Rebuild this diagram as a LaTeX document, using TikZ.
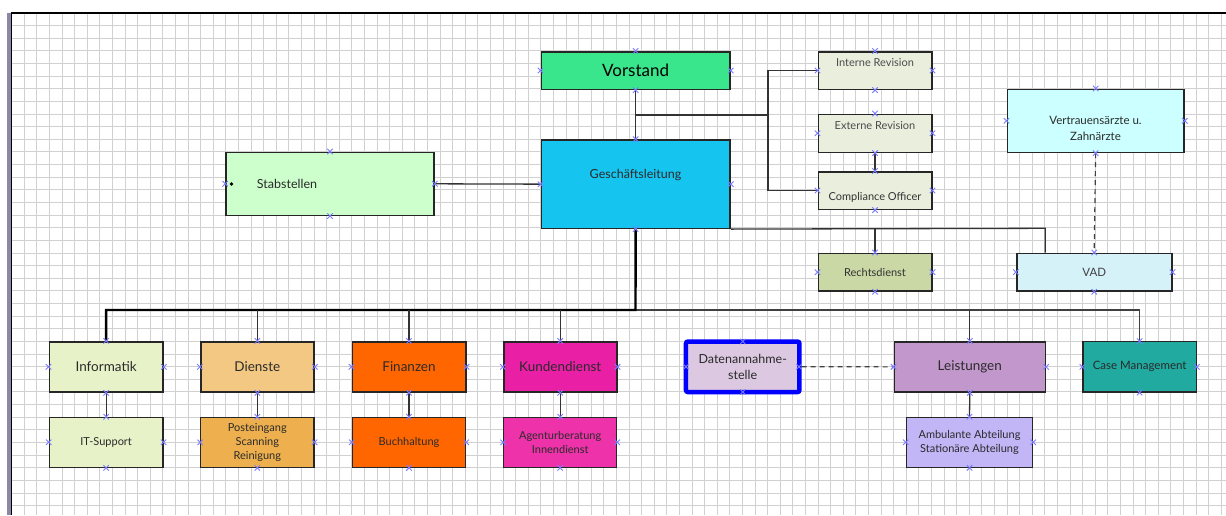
\documentclass[tikz,border=0pt]{standalone}
\usepackage{fontspec}
\setmainfont{Lato}
\usetikzlibrary{shapes.misc}
\definecolor{cVor}{HTML}{3AE68C}
\definecolor{cGL}{HTML}{15C5F0}
\definecolor{cStab}{HTML}{CCFFCC}
\definecolor{cRev}{HTML}{EAEEDD}
\definecolor{cRecht}{HTML}{C9D8A4}
\definecolor{cVert}{HTML}{CCFFFF}
\definecolor{cVAD}{HTML}{D5F2F8}
\definecolor{cInf}{HTML}{E8F2C9}
\definecolor{cDien}{HTML}{F2C882}
\definecolor{cPost}{HTML}{EEB04E}
\definecolor{cFin}{HTML}{FF6600}
\definecolor{cKund}{HTML}{E91FA5}
\definecolor{cAgent}{HTML}{EE33AA}
\definecolor{cDat}{HTML}{DCC8E0}
\definecolor{cLeist}{HTML}{C297CC}
\definecolor{cAmb}{HTML}{C3B6F7}
\definecolor{cCase}{HTML}{20AAA0}
\definecolor{cGrid}{HTML}{D0D0D0}
\definecolor{cBar}{HTML}{8A88A6}
\definecolor{cMark}{HTML}{7B7BFF}
\definecolor{cTxt}{HTML}{2A2A2A}
\newcommand\orgbox[7]{\node[#6, minimum width={(#4-#2)*1pt}, minimum height={(#5-#3)*1pt}] (#1) at ({(#2+#4)/2},{(#3+#5)/2}) {#7};}
\newcommand\fs[2]{\fontsize{#1}{#2}\selectfont}
\tikzset{
  box/.style={draw=black!85, line width=1.6pt, inner sep=0pt, align=center, text=cTxt},
  thinbox/.style={draw=black!85, line width=1.1pt, inner sep=0pt, align=center, text=cTxt},
  conn/.style={draw=black!80, line width=1.3pt},
  bus/.style={draw=black, line width=2.4pt},
  dashconn/.style={draw=black!75, line width=1.2pt, dashed, dash pattern=on 5pt off 4pt},
  xmark/.style={cross out, draw=cMark, line width=0.9pt, minimum size=4.5pt, inner sep=0pt},
  lbl/.style={text=cTxt, align=center}
}
\begin{document}
\begin{tikzpicture}[x=1pt,y=-1pt]
\useasboundingbox (0,0) rectangle (1226,515);
\fill[white] (0,0) rectangle (1226,515);
% grid
\begin{scope}
\clip (11,13) rectangle (1226,515);
\foreach \i in {0,...,97} \draw[cGrid, line width=0.9pt] ({11.7+12.6*\i},13) -- ({11.7+12.6*\i},515);
\foreach \j in {0,...,40} \draw[cGrid, line width=0.9pt] (11,{13+12.63*\j}) -- (1226,{13+12.63*\j});
\end{scope}
\fill[cBar] (7,13) rectangle (10.5,515);
\draw[black, line width=1.2pt] (10.5,13) -- (1226,13);
\draw[black, line width=1pt] (11.2,13) -- (11.2,515);

% boxes
\orgbox{vor}{541.3}{51.7}{730}{89.3}{box, fill=cVor, text=black, font=\fs{17}{20}}{Vorstand}
\orgbox{gl}{541.3}{140}{730}{228.3}{box, fill=cGL}{}
\node[lbl, font=\fs{12.5}{15}] (glt) at (635.5,175.5) {Geschäftsleitung};
\orgbox{stab}{226}{152.3}{434}{215.3}{box, fill=cStab}{}
\node[lbl, font=\fs{12.5}{15}] (stabt) at (287,184) {Stabstellen};
\fill[black] (231.5,184) circle (1.8);

\orgbox{ir}{818.3}{51.7}{931.7}{89.3}{box, fill=cRev}{}
\node[lbl, text=black!70, font=\fs{11}{13}] (irt) at (875,63) {Interne Revision};
\orgbox{er}{818.3}{114.3}{931.7}{152.3}{box, fill=cRev}{}
\node[lbl, text=black!70, font=\fs{11}{13}] (ert) at (875,126) {Externe Revision};
\orgbox{co}{818.3}{171.7}{931.7}{209.3}{box, fill=cRev}{}
\node[lbl, text=black!80, font=\fs{11}{13}] (cot) at (875,197) {Compliance Officer};
\orgbox{re}{818.3}{253.3}{931.7}{291}{box, fill=cRecht, text=black!80, font=\fs{11}{13}}{Rechtsdienst}
\orgbox{vz}{1007.3}{89.3}{1184}{152.3}{box, fill=cVert}{}
\node[lbl, font=\fs{11.5}{16}, align=center] (vzt) at (1095.5,128) {Vertrauensärzte u.\\Zahnärzte};
\orgbox{vad}{1016.7}{253.3}{1171.7}{291}{box, fill=cVAD, text=black!75, font=\fs{11.5}{14}}{VAD}

% level 1
\orgbox{inf}{49.3}{341.7}{163}{392}{box, fill=cInf, font=\fs{13.5}{16}}{Informatik}
\orgbox{die}{200.7}{341.7}{314}{392}{box, fill=cDien, font=\fs{13.5}{16}}{Dienste}
\orgbox{fin}{352.3}{341.7}{465.7}{392}{box, fill=cFin, font=\fs{13.5}{16}}{Finanzen}
\orgbox{kun}{503.7}{341.7}{616.7}{392}{box, fill=cKund, font=\fs{13.5}{16}}{Kundendienst}
\node[draw=blue, line width=4.5pt, rounded corners=2pt, fill=cDat, inner sep=0pt,
  minimum width=113.5pt, minimum height=50.5pt, align=center, text=cTxt, font=\fs{12.5}{16}]
  (dat) at (742.7,366.8) {Datenannahme-\\stelle};
\orgbox{lei}{894.3}{341.7}{1045.3}{392}{box, fill=cLeist, font=\fs{13.5}{16}}{Leistungen}
\orgbox{cas}{1083}{341.7}{1196.3}{392}{thinbox, fill=cCase, font=\fs{11.5}{14}}{Case Management}

% level 2
\orgbox{its}{49.3}{417.3}{163}{467.3}{thinbox, fill=cInf, font=\fs{11}{14}}{IT-Support}
\orgbox{pos}{200.7}{417.3}{314}{467.3}{thinbox, fill=cPost, font=\fs{11}{14}}{Posteingang\\Scanning\\Reinigung}
\orgbox{buc}{352.3}{417.3}{465.7}{467.3}{thinbox, fill=cFin, font=\fs{11}{14}}{Buchhaltung}
\orgbox{age}{503.7}{417.3}{616.7}{467.3}{thinbox, fill=cAgent, font=\fs{11}{14}}{Agenturberatung\\Innendienst}
\orgbox{amb}{906.3}{417.3}{1032.7}{467.3}{thinbox, fill=cAmb, font=\fs{11}{14}}{Ambulante Abteilung\\Stationäre Abteilung}

% connectors top part
\coordinate (j1) at (635.5,115);
\coordinate (j2) at (768,115);
\draw[conn] (vor.south) -- (gl.north);
\draw[conn] (j1) -- (j2);
\draw[conn] (ir.west) -| (j2) |- (co.west);
\draw[conn] (er.south) -- (co.north);
\draw[conn] (stab.east) -- (gl.west);
\coordinate (rj) at (1045.3,228.3);
\draw[conn] (gl.south east) -- (rj) -- (rj |- vad.north);
\draw[conn] (re.north) -- (re.north |- gl.south);
\draw[dashconn] (vz.south) -- (vad.north);

% main bus
\coordinate (bm) at (635.5,310);
\draw[conn, draw=black!75] (bm) -| (cas.north);
\draw[conn] (lei.north) -- (lei.north |- bm);
\draw[bus] (gl.south) -- (bm) -| (inf.north);
\draw[conn] (die.north) -- (die.north |- bm);
\draw[conn] (fin.north) -- (fin.north |- bm);
\draw[conn] (kun.north) -- (kun.north |- bm);

\draw[conn] (inf.south) -- (its.north);
\draw[conn] (die.south) -- (pos.north);
\draw[conn] (fin.south) -- (buc.north);
\draw[conn] (kun.south) -- (age.north);
\draw[conn] (lei.south) -- (amb.north);
\draw[dashconn] (dat.east) -- (lei.west);

% connection point markers
\foreach \n in {vor,gl,stab,ir,er,co,re,vz,vad,inf,die,fin,kun,lei,cas,its,pos,buc,age,amb}
  \foreach \a in {north,south,east,west}
    \node[xmark] at (\n.\a) {};
\node[xmark] at (742.7,341.5) {};
\node[xmark] at (742.7,392) {};
\node[xmark] at (686,366.8) {};
\node[xmark] at (799,366.8) {};
\end{tikzpicture}
\end{document}
